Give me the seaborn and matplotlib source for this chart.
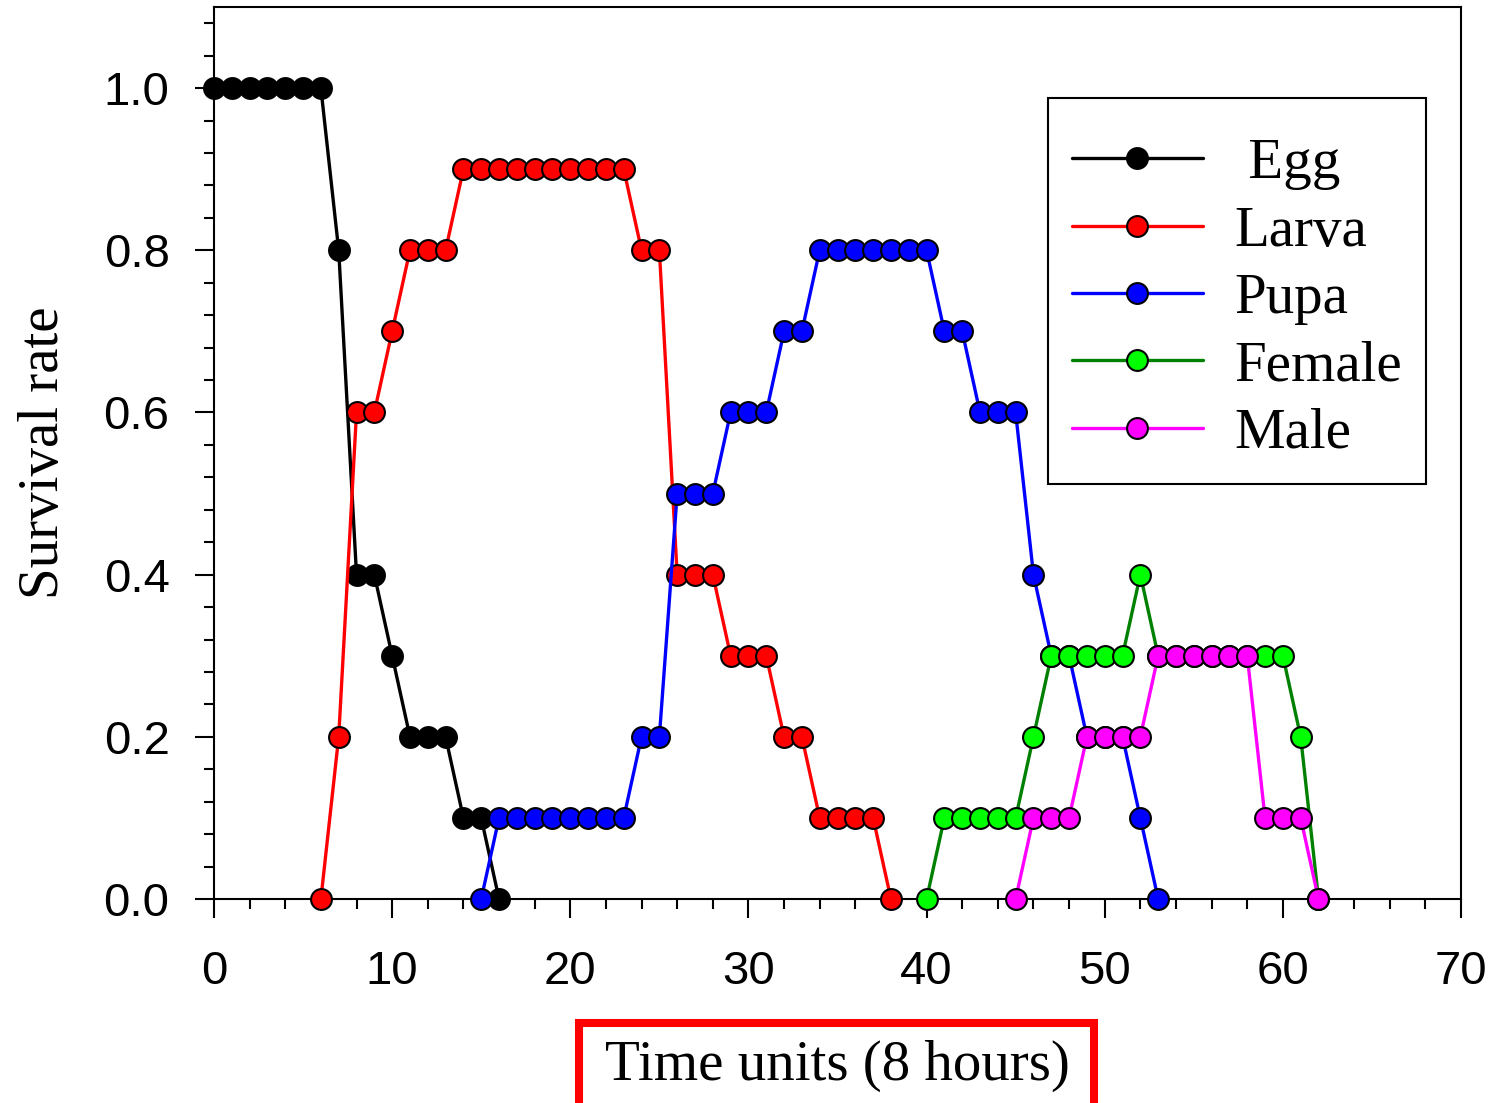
import matplotlib
matplotlib.use('Agg')
import matplotlib.pyplot as plt
import seaborn as sb
from matplotlib.patches import Rectangle
from matplotlib.ticker import MultipleLocator

# survival rate per time unit (8 h)
egg_t    = list(range(0, 17))
egg_v    = [1.0, 1.0, 1.0, 1.0, 1.0, 1.0, 1.0, 0.8, 0.4, 0.4, 0.3, 0.2, 0.2, 0.2, 0.1, 0.1, 0.0]

larva_t  = list(range(6, 39))
larva_v  = [0.0, 0.2, 0.6, 0.6, 0.7, 0.8, 0.8, 0.8, 0.9, 0.9, 0.9, 0.9, 0.9, 0.9, 0.9, 0.9,
            0.9, 0.9, 0.8, 0.8, 0.4, 0.4, 0.4, 0.3, 0.3, 0.3, 0.2, 0.2, 0.1, 0.1, 0.1, 0.1, 0.0]

pupa_t   = list(range(15, 54))
pupa_v   = [0.0, 0.1, 0.1, 0.1, 0.1, 0.1, 0.1, 0.1, 0.1, 0.2, 0.2, 0.5, 0.5, 0.5, 0.6, 0.6,
            0.6, 0.7, 0.7, 0.8, 0.8, 0.8, 0.8, 0.8, 0.8, 0.8, 0.7, 0.7, 0.6, 0.6, 0.6, 0.4,
            0.3, 0.3, 0.2, 0.2, 0.2, 0.1, 0.0]

female_t = list(range(40, 63))
female_v = [0.0, 0.1, 0.1, 0.1, 0.1, 0.1, 0.2, 0.3, 0.3, 0.3, 0.3, 0.3, 0.4, 0.3, 0.3, 0.3,
            0.3, 0.3, 0.3, 0.3, 0.3, 0.2, 0.0]

male_t   = list(range(45, 63))
male_v   = [0.0, 0.1, 0.1, 0.1, 0.2, 0.2, 0.2, 0.2, 0.3, 0.3, 0.3, 0.3, 0.3, 0.3, 0.1, 0.1,
            0.1, 0.0]

labels = [' Egg', 'Larva', 'Pupa', 'Female', 'Male']

sb.set_style('white')
serif = ['Liberation Serif', 'DejaVu Serif']
sans  = ['Liberation Sans', 'DejaVu Sans']
plt.rcParams['font.family'] = sans
plt.rcParams['text.color'] = 'black'
plt.rcParams['axes.labelcolor'] = 'black'

fig = plt.figure(figsize=(14.93, 11.03), dpi=100)
ax = fig.add_axes([214/1493, 1 - 899/1103, (1461-214)/1493, (899-7)/1103])

series = [
    (egg_t, egg_v, 'black', 'black'),
    (larva_t, larva_v, 'red', 'red'),
    (pupa_t, pupa_v, 'blue', 'blue'),
    (female_t, female_v, 'green', '#00ff00'),
    (male_t, male_v, 'magenta', 'magenta'),
]
for (t, v, lc, mc), lab in zip(series, labels):
    sb.lineplot(x=t, y=v, ax=ax, color=lc, linewidth=2.4, marker='o', markersize=15,
                markerfacecolor=mc, markeredgecolor='black', markeredgewidth=1.5,
                label=lab, clip_on=False, zorder=3)

ax.set_xlim(0, 70)
ax.set_ylim(0, 1.1)
ax.xaxis.set_major_locator(MultipleLocator(10))
ax.xaxis.set_minor_locator(MultipleLocator(2))
ax.yaxis.set_major_locator(MultipleLocator(0.2))
ax.yaxis.set_minor_locator(MultipleLocator(0.04))
ax.set_yticks([0.0, 0.2, 0.4, 0.6, 0.8, 1.0])
ax.set_yticklabels(['0.0', '0.2', '0.4', '0.6', '0.8', '1.0'])

for s in ax.spines.values():
    s.set_color('black')
    s.set_linewidth(1.5)

ax.tick_params(which='major', direction='out', length=14, width=1.5, colors='black',
               labelsize=34, bottom=True, left=True)
ax.tick_params(axis='x', which='major', pad=23)
ax.tick_params(axis='y', which='major', pad=18)
ax.tick_params(which='minor', direction='out', length=7, width=1.5, colors='black',
               bottom=True, left=True)

ax.set_ylabel('Survival rate', family=serif, fontsize=41, labelpad=24)
ax.set_xlabel('Time units (8 hours)', family=serif, fontsize=41, labelpad=33)

leg = ax.legend(loc='upper left', bbox_to_anchor=((1048-214)/1247, (899-98)/892),
                borderaxespad=0, frameon=True, fancybox=False, framealpha=1,
                edgecolor='black', prop={'family': serif, 'size': 41},
                handlelength=2.3, handletextpad=0.55, labelspacing=0.27,
                borderpad=0.42, title=' ', title_fontsize=1)
leg.get_frame().set_linewidth(1.5)

# red box around the x axis title
fig.patches.append(Rectangle((579/1493, -0.02), (1094-579)/1493, 1 - 1023/1103 + 0.02,
                             transform=fig.transFigure, fill=False, edgecolor='red',
                             linewidth=5.8, zorder=10))

fig.savefig('out.png', dpi=100)
